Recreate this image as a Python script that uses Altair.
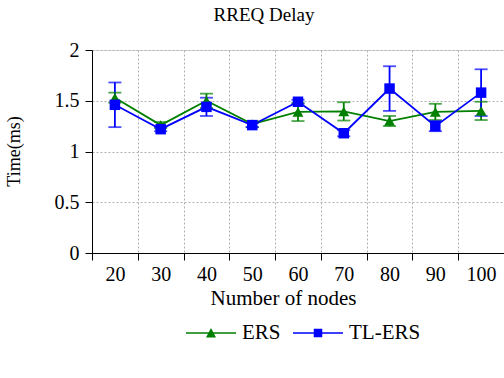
import altair as alt
import pandas as pd

nodes = ["20", "30", "40", "50", "60", "70", "80", "90", "100"]
ers = [1.53, 1.26, 1.50, 1.27, 1.39, 1.395, 1.30, 1.39, 1.40]
ers_err = [0.05, 0.03, 0.07, 0.03, 0.09, 0.09, 0.05, 0.08, 0.09]
tl = [1.46, 1.22, 1.44, 1.26, 1.49, 1.18, 1.62, 1.25, 1.58]
tl_err = [0.22, 0.02, 0.09, 0.02, 0.02, 0.03, 0.22, 0.05, 0.23]
series = ["ERS", "TL-ERS"]
colors = ["#008000", "#0000FF"]

rows = []
for s, vals, errs in [(series[0], ers, ers_err), (series[1], tl, tl_err)]:
    for n, v, e in zip(nodes, vals, errs):
        rows.append({"nodes": n, "series": s, "value": v, "lo": v - e, "hi": v + e})
df = pd.DataFrame(rows)

FONT = "Liberation Serif"
FS = 20

x = alt.X("nodes:N", sort=nodes,
          scale=alt.Scale(paddingInner=0, paddingOuter=0),
          axis=alt.Axis(title="Number of nodes", labelAngle=0, tickBand="extent",
                        grid=True, gridDash=[2, 2], gridColor="#b0b0b0",
                        domainColor="black", tickColor="black", tickSize=7,
                        labelPadding=4, labelFontSize=FS, labelFont=FONT, labelColor="black",
                        titleFont=FONT, titleFontSize=21, titleFontWeight="normal",
                        titleColor="black", titleX=191, titleY=45, titleBaseline="middle",
                        titleAlign="center"))
y = alt.Y("value:Q", scale=alt.Scale(domain=[0, 2]),
          axis=alt.Axis(title="Time(ms)", values=[0, 0.5, 1, 1.5, 2], format="~g",
                        grid=True, gridDash=[2, 2], gridColor="#b0b0b0",
                        domainColor="black", tickColor="black", tickSize=7,
                        labelPadding=6, labelFontSize=FS, labelFont=FONT, labelColor="black",
                        titleFont=FONT, titleFontSize=18, titleFontWeight="normal",
                        titleColor="black", titleAngle=270, titleX=-73, titleY=101,
                        titleAlign="center", titleBaseline="alphabetic"))

color_scale = alt.Scale(domain=series, range=colors)
ERS_PATH = "M-1,-0.03H1V0.03H-1Z M-0.2,0.18L0,-0.2L0.2,0.18Z"
TL_PATH = "M-1,-0.03H1V0.03H-1Z M-0.17,-0.17H0.17V0.17H-0.17Z"
shape_scale = alt.Scale(domain=series, range=[ERS_PATH, TL_PATH])

legend = alt.Legend(
    title=None, orient="none", direction="horizontal",
    legendX=94, legendY=258,
    symbolSize=2500, symbolOpacity=1, symbolStrokeWidth=0,
    labelFont=FONT, labelFontSize=21, labelColor="black",
    labelOffset=6, columnPadding=12,
)

base = alt.Chart(df)
col = alt.Color("series:N", scale=color_scale, legend=legend)
xs = alt.X("nodes:N", sort=nodes)

lines = base.mark_line(strokeWidth=1.8).encode(x=x, y=y, color=col)

rules = base.mark_rule(strokeWidth=1.8).encode(x=xs, y="lo:Q", y2="hi:Q", color=col)
caps_lo = base.mark_tick(thickness=1.8, size=13).encode(x=xs, y="lo:Q", color=col)
caps_hi = base.mark_tick(thickness=1.8, size=13).encode(x=xs, y="hi:Q", color=col)

pts_ers = base.transform_filter(alt.datum.series == "ERS").mark_point(
    filled=True, opacity=1, size=120, shape="triangle-up").encode(x=xs, y="value:Q", color=col)
pts_tl = base.transform_filter(alt.datum.series == "TL-ERS").mark_point(
    filled=True, opacity=1, size=110, shape="square").encode(x=xs, y="value:Q", color=col)

legend_layer = base.mark_point(filled=True, opacity=0, size=1).encode(
    x=xs, y="value:Q", color=col,
    shape=alt.Shape("series:N", scale=shape_scale, legend=legend),
)

chart = alt.layer(lines, rules, caps_lo, caps_hi, pts_ers, pts_tl, legend_layer).properties(
    width=412, height=203,
    autosize=alt.AutoSizeParams(type="none"),
    padding={"left": 92, "top": 50, "right": 0, "bottom": 125},
    title=alt.TitleParams("RREQ Delay", font=FONT, fontSize=19, fontWeight="normal",
                          color="black", anchor="middle", dx=-34, offset=15),
).configure_view(stroke=None).configure(background="white")

chart.save("out.html", embed_options={"renderer": "svg", "actions": False})
